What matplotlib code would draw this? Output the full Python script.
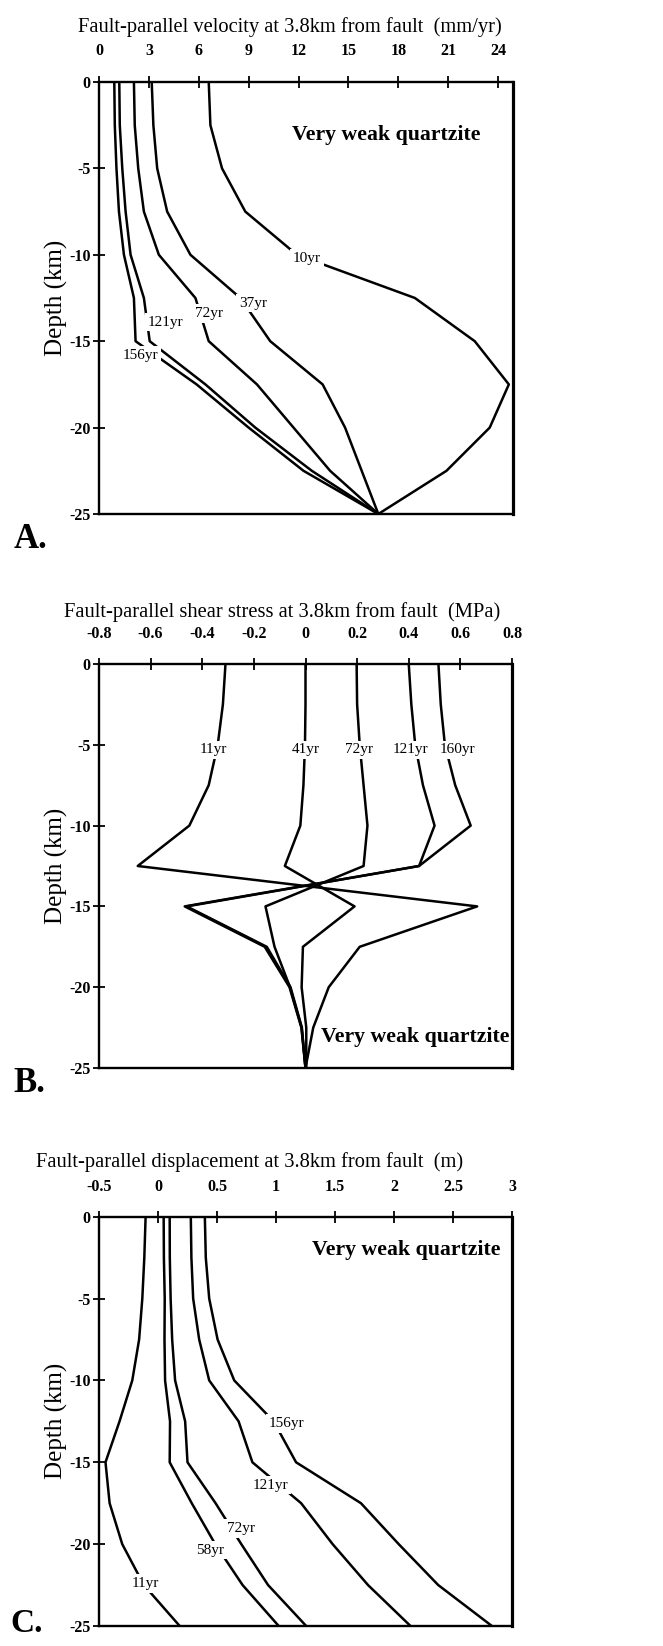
import numpy as np
import matplotlib
matplotlib.use('Agg')
import matplotlib.pyplot as plt

plt.rcParams['font.family'] = ['Liberation Serif', 'DejaVu Serif']

# depth of every profile point (km)
depth = [0, -2.5, -5, -7.5, -10, -12.5, -15, -17.5, -20, -22.5, -25]

# A. fault-parallel velocity (mm/yr)
vel_10 = [6.6, 6.7, 7.4, 8.8, 11.9, 19.0, 22.6, 24.65, 23.5, 20.9, 16.8]
vel_37 = [3.17, 3.27, 3.5, 4.1, 5.5, 8.5, 10.3, 13.45, 14.8, 15.8, 16.8]
vel_72 = [2.1, 2.15, 2.36, 2.7, 3.6, 5.8, 6.6, 9.5, 11.7, 13.9, 16.8]
vel_121 = [1.22, 1.25, 1.4, 1.6, 1.9, 2.7, 3.05, 6.4, 9.4, 12.8, 16.8]
vel_156 = [0.92, 0.95, 1.05, 1.2, 1.5, 2.1, 2.2, 5.87, 9.0, 12.3, 16.8]

# B. fault-parallel shear stress (MPa)
str_11 = [-0.31, -0.32, -0.34, -0.375, -0.45, -0.65, 0.665, 0.21, 0.09, 0.03, 0.0]
str_41 = [0.0, 0.0, -0.002, -0.008, -0.02, -0.08, 0.19, -0.01, -0.015, 0.003, 0.003]
str_72 = [0.198, 0.2, 0.21, 0.225, 0.24, 0.225, -0.155, -0.12, -0.06, -0.015, 0.0]
str_121 = [0.40, 0.41, 0.425, 0.455, 0.50, 0.44, -0.46, -0.15, -0.058, -0.014, 0.0]
str_160 = [0.515, 0.524, 0.54, 0.58, 0.64, 0.44, -0.468, -0.158, -0.062, -0.016, 0.0]

# C. fault-parallel displacement (m)
dis_11 = [-0.105, -0.116, -0.133, -0.16, -0.218, -0.326, -0.445, -0.41, -0.303, -0.12, 0.184]
dis_58 = [0.048, 0.05, 0.057, 0.055, 0.06, 0.102, 0.099, 0.286, 0.485, 0.717, 1.023]
dis_72 = [0.099, 0.1, 0.107, 0.12, 0.145, 0.23, 0.25, 0.488, 0.706, 0.933, 1.256]
dis_121 = [0.278, 0.283, 0.298, 0.349, 0.434, 0.683, 0.80, 1.213, 1.48, 1.78, 2.14]
dis_156 = [0.397, 0.405, 0.434, 0.505, 0.646, 0.98, 1.17, 1.72, 2.04, 2.375, 2.83]

ticks_a = [0, 3, 6, 9, 12, 15, 18, 21, 24]
ticks_b = [-0.8, -0.6, -0.4, -0.2, 0, 0.2, 0.4, 0.6, 0.8]
ticks_c = [-0.5, 0, 0.5, 1, 1.5, 2, 2.5, 3]
labels_a = ['0', '3', '6', '9', '12', '15', '18', '21', '24']
labels_b = ['-0.8', '-0.6', '-0.4', '-0.2', '0', '0.2', '0.4', '0.6', '0.8']
labels_c = ['-0.5', '0', '0.5', '1', '1.5', '2', '2.5', '3']
depth_ticks = [0, -5, -10, -15, -20, -25]
depth_labels = ['0', '-5', '-10', '-15', '-20', '-25']

W, H = 663, 1646
fig = plt.figure(figsize=(W / 100, H / 100), dpi=100)


def px_axes(left, top, right, bottom):
    return fig.add_axes([left / W, 1 - bottom / H, (right - left) / W, (bottom - top) / H])


def setup(ax, xlim, ticks, labels, pad):
    ax.set_xlim(*xlim)
    ax.set_ylim(-25, 0)
    ax.xaxis.tick_top()
    ax.set_xticks(ticks)
    ax.set_xticklabels(labels, fontweight='bold', fontsize=11.5)
    ax.set_yticks(depth_ticks)
    ax.set_yticklabels(depth_labels, fontweight='bold', fontsize=11.5)
    ax.tick_params(axis='x', direction='inout', length=8, width=1.3, pad=pad)
    ax.tick_params(axis='y', direction='inout', length=8, width=1.3, pad=2)
    ax.set_ylabel('Depth (km)', fontsize=18)
    ax.yaxis.set_label_coords(-0.075, 0.5)
    for s in ax.spines.values():
        s.set_linewidth(1.7)
    ax.spines['right'].set_linewidth(2.3)


def curve_label(ax, x, y, txt):
    ax.text(x, y, txt, ha='center', va='center', fontsize=11, zorder=5,
            bbox=dict(fc='white', ec='none', pad=2.0))


lw = 1.8

# ---- A ----
axA = px_axes(99, 82, 513, 514)
setup(axA, (0, 24.9), ticks_a, labels_a, 12.5)
for v in [vel_10, vel_37, vel_72, vel_121, vel_156]:
    axA.plot(v, depth, color='black', lw=lw)
curve_label(axA, 12.5, -10.2, '10yr')
curve_label(axA, 9.26, -12.8, '37yr')
curve_label(axA, 6.6, -13.4, '72yr')
curve_label(axA, 4.0, -13.9, '121yr')
curve_label(axA, 2.47, -15.8, '156yr')
axA.text(17.3, -3.07, 'Very weak quartzite', ha='center', va='center',
         fontsize=15.7, fontweight='bold')
fig.text(290 / W, 1 - 27 / H, 'Fault-parallel velocity at 3.8km from fault  (mm/yr)',
         ha='center', va='center', fontsize=14.8)
fig.text(30 / W, 1 - 540 / H, 'A.', ha='center', va='center', fontsize=25, fontweight='bold')

# ---- B ----
axB = px_axes(99, 664, 512, 1068)
setup(axB, (-0.8, 0.8), ticks_b, labels_b, 11.5)
for s in [str_11, str_41, str_72, str_121, str_160]:
    axB.plot(s, depth, color='black', lw=lw)
for x, txt in zip([-0.357, 0.0, 0.207, 0.405, 0.589], ['11yr', '41yr', '72yr', '121yr', '160yr']):
    curve_label(axB, x, -5.32, txt)
axB.text(0.427, -23.06, 'Very weak quartzite', ha='center', va='center',
         fontsize=15.7, fontweight='bold')
fig.text(282 / W, 1 - 611.7 / H, 'Fault-parallel shear stress at 3.8km from fault  (MPa)',
         ha='center', va='center', fontsize=14.8)
fig.text(29 / W, 1 - 1083 / H, 'B.', ha='center', va='center', fontsize=25, fontweight='bold')

# ---- C ----
axC = px_axes(99, 1216.7, 512, 1626)
setup(axC, (-0.5, 3), ticks_c, labels_c, 11.5)
for d in [dis_11, dis_58, dis_72, dis_121, dis_156]:
    axC.plot(d, depth, color='black', lw=lw)
curve_label(axC, 1.086, -12.62, '156yr')
curve_label(axC, 0.956, -16.39, '121yr')
curve_label(axC, 0.703, -19.04, '72yr')
curve_label(axC, 0.44, -20.36, '58yr')
curve_label(axC, -0.105, -22.4, '11yr')
axC.text(2.106, -2.03, 'Very weak quartzite', ha='center', va='center',
         fontsize=15.7, fontweight='bold')
fig.text(250 / W, 1 - 1161.7 / H, 'Fault-parallel displacement at 3.8km from fault  (m)',
         ha='center', va='center', fontsize=14.8)
fig.text(27 / W, 1 - 1624 / H, 'C.', ha='center', va='center', fontsize=24, fontweight='bold')

fig.savefig('out.png', dpi=100)
